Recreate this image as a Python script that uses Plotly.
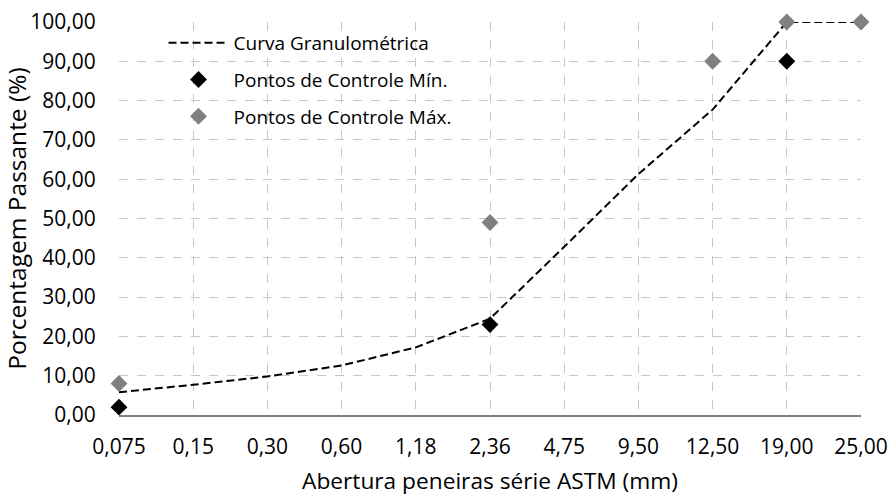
import plotly.graph_objects as go

# Sieve openings (ASTM series) and passing percentages
sieves = ["0,075", "0,15", "0,30", "0,60", "1,18", "2,36", "4,75", "9,50", "12,50", "19,00", "25,00"]
curve = [5.8, 7.7, 9.8, 12.6, 17.2, 24.5, 42.8, 61.3, 77.7, 100.0, 100.0]

min_sieves = ["0,075", "2,36", "19,00"]
min_values = [2.0, 23.0, 90.0]

max_sieves = ["0,075", "2,36", "12,50", "19,00", "25,00"]
max_values = [8.0, 49.0, 90.0, 100.0, 100.0]

y_ticks = [0, 10, 20, 30, 40, 50, 60, 70, 80, 90, 100]
y_tick_text = [f"{v:.2f}".replace(".", ",") for v in y_ticks]

FONT = "Open Sans"

fig = go.Figure()
fig.add_trace(go.Scatter(
    x=sieves, y=curve, mode="lines", name="Curva Granulométrica",
    line=dict(color="black", width=2, dash="8px,4px"), legendgroup="a",
    cliponaxis=False,
))
fig.add_trace(go.Scatter(
    x=min_sieves, y=min_values, mode="markers", name="Pontos de Controle Mín.",
    marker=dict(symbol="diamond", size=13, color="black"), legendgroup="b",
    cliponaxis=False,
))
fig.add_trace(go.Scatter(
    x=max_sieves, y=max_values, mode="markers", name="Pontos de Controle Máx.",
    marker=dict(symbol="diamond", size=13, color="#808080"), legendgroup="c",
    cliponaxis=False,
))

# white panel behind the legend, hiding the gridlines
fig.add_shape(
    type="rect", xref="paper", yref="paper", layer="between",
    x0=0.002, x1=0.49, y0=0.705, y1=0.992,
    fillcolor="white", line=dict(width=0),
)

grid = dict(showgrid=True, gridcolor="#c8c8c8", gridwidth=1, griddash="dash", zeroline=False)

fig.update_layout(
    width=891, height=496,
    margin=dict(l=119, r=30, t=22, b=81),
    paper_bgcolor="white", plot_bgcolor="white",
    font=dict(family=FONT, color="#000000", size=21),
    legend=dict(
        x=0.06, y=0.995, xanchor="left", yanchor="top",
        bgcolor="rgba(0,0,0,0)", font=dict(size=19, family=FONT),
        itemwidth=60, tracegroupgap=9,
    ),
    xaxis=dict(
        type="category", categoryorder="array", categoryarray=sieves,
        range=[0, 10], tickfont=dict(size=21), ticks="outside", ticklen=12,
        tickcolor="rgba(0,0,0,0)", automargin=False,
        showline=True, linecolor="#808080", linewidth=2,
        title=dict(text="Abertura peneiras série ASTM (mm)", font=dict(size=22.7), standoff=14),
        **grid,
    ),
    yaxis=dict(
        range=[0, 100], tickvals=y_ticks, ticktext=y_tick_text,
        tickfont=dict(size=21), showline=False, ticks="outside", ticklen=18,
        tickcolor="rgba(0,0,0,0)", automargin=False,
        title=dict(text="Porcentagem Passante (%)", font=dict(size=24.5), standoff=3),
        **grid,
    ),
)

fig.write_html("out.html")
